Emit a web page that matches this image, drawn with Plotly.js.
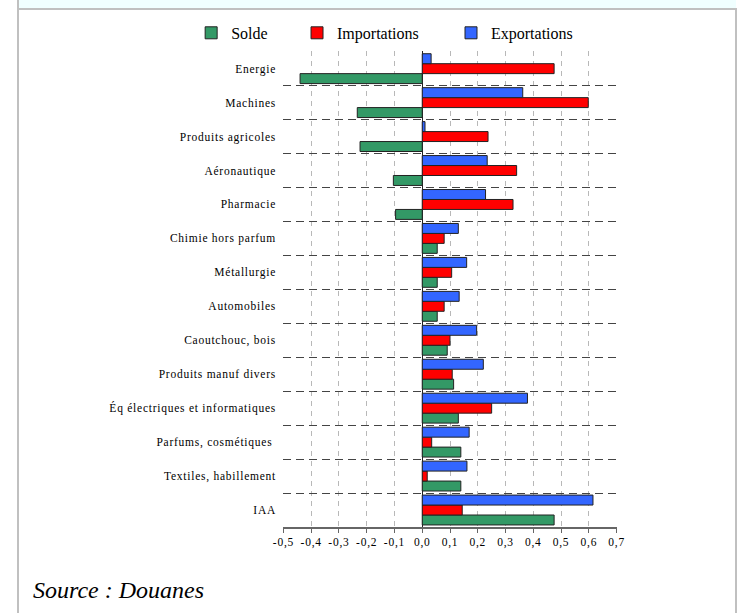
<!DOCTYPE html>
<html>
<head>
<meta charset="utf-8">
<script src="https://cdn.plot.ly/plotly-3.0.1.min.js"></script>
<style>
  html, body { margin: 0; padding: 0; background: #ffffff; }
  #frame { position: absolute; left: 0; top: 0; width: 739px; height: 613px; }
  #band { position: absolute; left: 17px; top: 0; width: 719px; height: 8px; background: #f0ffff; }
  #hline { position: absolute; left: 17px; top: 8px; width: 720px; height: 2px; background: #c0c0c0; }
  #lline { position: absolute; left: 17px; top: 0; width: 2px; height: 613px; background: #c0c0c0; }
  #rline { position: absolute; left: 735px; top: 8px; width: 2px; height: 605px; background: #c0c0c0; }
  #chart { position: absolute; left: 0; top: 0; width: 739px; height: 613px; }
  #chart .ytick text, #chart .xtick text { letter-spacing: 0.75px; }
</style>
</head>
<body>
<div id="frame">
  <div id="band"></div>
  <div id="hline"></div>
  <div id="lline"></div>
  <div id="rline"></div>
</div>
<div id="chart"></div>
<script>
// Categories listed bottom-to-top (IAA at the bottom of the chart)
const categories = [
  "IAA",
  "Textiles, habillement",
  "Parfums, cosmétiques ",
  "Éq électriques et informatiques",
  "Produits manuf divers",
  "Caoutchouc, bois",
  "Automobiles",
  "Métallurgie",
  "Chimie hors parfum",
  "Pharmacie",
  "Aéronautique",
  "Produits agricoles",
  "Machines",
  "Energie"
];
const solde        = [0.475, 0.139, 0.139, 0.130, 0.113, 0.090, 0.054, 0.054, 0.054, -0.096, -0.104, -0.224, -0.234, -0.440];
const importations = [0.144, 0.018, 0.034, 0.250, 0.108, 0.100, 0.079, 0.106, 0.079, 0.327, 0.340, 0.237, 0.598, 0.475];
const exportations = [0.615, 0.161, 0.169, 0.379, 0.220, 0.196, 0.133, 0.160, 0.130, 0.228, 0.234, 0.010, 0.362, 0.032];
const xTicks = [-0.5, -0.4, -0.3, -0.2, -0.1, 0.0, 0.1, 0.2, 0.3, 0.4, 0.5, 0.6, 0.7];
const xTickLabels = ["-0,5", "-0,4", "-0,3", "-0,2", "-0,1", "0,0", "0,1", "0,2", "0,3", "0,4", "0,5", "0,6", "0,7"];

const serif = "Liberation Serif";
const outline = { color: "#222222", width: 1 };

const traces = [
  { type: "bar", orientation: "h", name: "Solde", y: categories, x: solde, legend: "legend",
    marker: { color: "#339966", line: outline } },
  { type: "bar", orientation: "h", name: "Importations", y: categories, x: importations, legend: "legend2",
    marker: { color: "#ff0000", line: outline } },
  { type: "bar", orientation: "h", name: "Exportations", y: categories, x: exportations, legend: "legend3",
    marker: { color: "#3366ff", line: outline } }
];

const legendFont = { family: serif, size: 16, color: "#000000" };
function legendAt(xPaper) {
  return { orientation: "h", x: xPaper, xanchor: "left", y: 1.038, yanchor: "middle",
           font: legendFont, bgcolor: "rgba(0,0,0,0)", itemclick: false, itemdoubleclick: false };
}

const layout = {
  width: 739, height: 613,
  margin: { l: 283, r: 122, t: 51, b: 86 },
  paper_bgcolor: "rgba(0,0,0,0)",
  plot_bgcolor: "rgba(0,0,0,0)",
  barmode: "group",
  bargap: 0.12,
  bargroupgap: 0,
  font: { family: serif, size: 11.5, color: "#000000" },
  showlegend: true,
  legend: legendAt(-0.275),
  legend2: legendAt(0.042),
  legend3: legendAt(0.503),
  xaxis: {
    range: [-0.5015, 0.7015],
    tickmode: "array",
    tickvals: xTicks,
    ticktext: xTickLabels,
    showgrid: true,
    gridcolor: "#b8b8b8",
    griddash: "5px,5px",
    gridwidth: 1,
    zeroline: true,
    zerolinecolor: "#222222",
    zerolinewidth: 1,
    showline: true,
    linecolor: "#666666",
    linewidth: 1.5,
    ticks: "outside",
    ticklen: 4,
    tickcolor: "#666666",
    tickfont: { family: serif, size: 11.5, color: "#000000" },
    fixedrange: true
  },
  yaxis: {
    type: "category",
    categoryorder: "array",
    categoryarray: categories,
    range: [-0.5, 13.52],
    tickson: "boundaries",
    ticks: "",
    showgrid: true,
    gridcolor: "#444444",
    griddash: "8px,5px",
    gridwidth: 1,
    showline: false,
    ticklabelstandoff: 6,
    tickfont: { family: serif, size: 11.5, color: "#000000" },
    fixedrange: true
  },
  annotations: [
    { xref: "paper", yref: "paper",
      x: (31 - 283) / 334, y: (527 - 590) / 476,
      xanchor: "left", yanchor: "middle",
      text: "<i>Source : Douanes</i>", showarrow: false,
      font: { family: serif, size: 24, color: "#000000" } }
  ]
};

Plotly.newPlot("chart", traces, layout, { displayModeBar: false, staticPlot: true });
</script>
</body>
</html>
